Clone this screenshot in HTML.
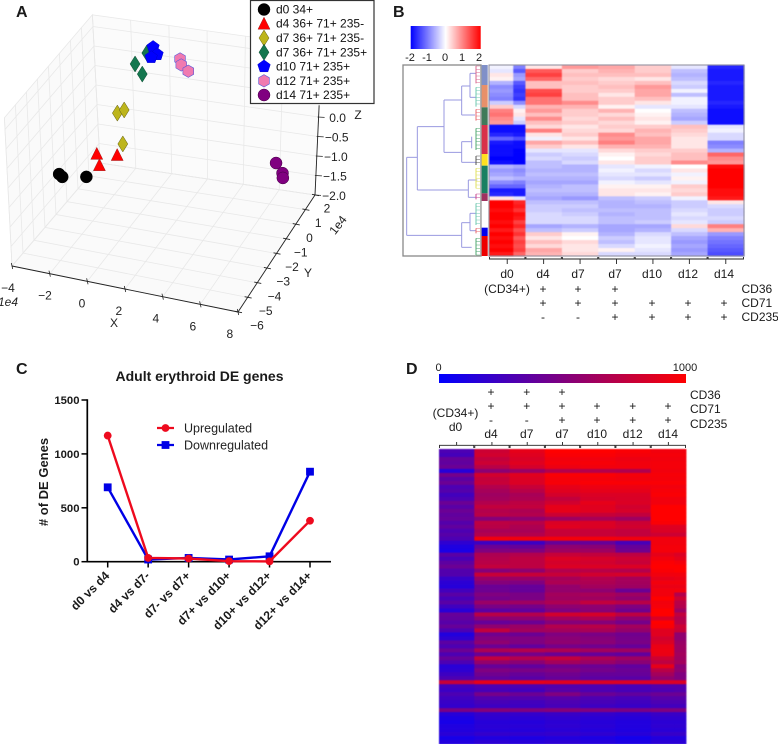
<!DOCTYPE html>
<html lang="en">
<head>
<meta charset="utf-8">
<title>Adult erythroid differentiation figure</title>
<style>
html,body{margin:0;padding:0;background:#fff;}
#figure{display:block;width:778px;height:744px;font-family:"Liberation Sans",Arial,sans-serif;fill:#1a1a1a;}
text{font-family:"Liberation Sans",Arial,sans-serif;}
</style>
</head>
<body>
<svg id="figure" xmlns="http://www.w3.org/2000/svg" width="778" height="744" viewBox="0 0 778 744">
  <defs>
    <linearGradient id="gradB" x1="0" x2="1" y1="0" y2="0"><stop offset="0" stop-color="#0000ff"/><stop offset="0.5" stop-color="#ffffff"/><stop offset="1" stop-color="#ff0000"/></linearGradient>
    <linearGradient id="gradD" x1="0" x2="1" y1="0" y2="0"><stop offset="0" stop-color="#0000ff"/><stop offset="1" stop-color="#ff0000"/></linearGradient>
  </defs>
  <g id="panelA"></g>
  <g id="panelB"></g>
  <g id="panelC"></g>
  <g id="panelD"></g>

  <text x="16" y="17" font-size="16" font-weight="bold">A</text>
  <text x="393" y="17" font-size="16" font-weight="bold">B</text>
  <text x="16" y="374" font-size="16" font-weight="bold">C</text>
  <text x="406" y="374" font-size="16" font-weight="bold">D</text>

  <!-- Panel B static furniture -->
  <rect x="410.7" y="26" width="70" height="23" fill="url(#gradB)"/>
  <g font-size="11" text-anchor="middle">
    <text x="410" y="61">-2</text><text x="427" y="61">-1</text><text x="445" y="61">0</text><text x="462" y="61">1</text><text x="479" y="61">2</text>
  </g>
  <g font-size="12" text-anchor="middle">
    <text x="507" y="278">d0</text><text x="543" y="278">d4</text><text x="578" y="278">d7</text><text x="615" y="278">d7</text><text x="652" y="278">d10</text><text x="688" y="278">d12</text><text x="724" y="278">d14</text>
    <text x="507" y="293">(CD34+)</text>
    <text x="543" y="293">+</text><text x="578" y="293">+</text><text x="615" y="293">+</text>
    <text x="543" y="307">+</text><text x="578" y="307">+</text><text x="615" y="307">+</text><text x="652" y="307">+</text><text x="688" y="307">+</text><text x="724" y="307">+</text>
    <text x="543" y="321">-</text><text x="578" y="321">-</text><text x="615" y="321">+</text><text x="652" y="321">+</text><text x="688" y="321">+</text><text x="724" y="321">+</text>
  </g>
  <g font-size="12">
    <text x="741.5" y="293">CD36</text><text x="741.5" y="307">CD71</text><text x="741.5" y="321">CD235</text>
  </g>

  <!-- Panel D static furniture -->
  <rect x="439" y="374" width="247" height="9" fill="url(#gradD)"/>
  <g font-size="11" text-anchor="middle">
    <text x="438.5" y="371">0</text><text x="685" y="371">1000</text>
  </g>
  <g font-size="12" text-anchor="middle">
    <text x="491" y="396">+</text><text x="526.7" y="396">+</text><text x="562" y="396">+</text>
    <text x="491" y="410">+</text><text x="526.7" y="410">+</text><text x="562" y="410">+</text><text x="597" y="410">+</text><text x="632.7" y="410">+</text><text x="668" y="410">+</text>
    <text x="491" y="424">-</text><text x="526.7" y="424">-</text><text x="562" y="424">+</text><text x="597" y="424">+</text><text x="632.7" y="424">+</text><text x="668" y="424">+</text>
    <text x="455.5" y="417">(CD34+)</text><text x="455.5" y="431">d0</text>
    <text x="491" y="438">d4</text><text x="526.7" y="438">d7</text><text x="562" y="438">d7</text><text x="597" y="438">d10</text><text x="632.7" y="438">d12</text><text x="668" y="438">d14</text>
  </g>
  <g font-size="12">
    <text x="690" y="399">CD36</text><text x="690" y="413">CD71</text><text x="690" y="428">CD235</text>
  </g>
</svg>

<script>
// ---------- Panel A data ----------
const scatterGroups = ['d0 34+','d4 36+ 71+ 235-','d7 36+ 71+ 235-','d7 36+ 71+ 235+','d10 71+ 235+','d12 71+ 235+','d14 71+ 235+'];
const scatterX = [[-3.72,-3.56,-2.26],[-1.66,-1.54,-0.58],[-0.52,-0.16,-0.27],[0.44,0.8,1.04],[1.36,1.56,1.26],[2.72,2.78,3.14],[7.76,8.12,8.15]];
const scatterY = [[-2,-2,-2],[-2,-2,-2],[-2,-2,-2],[-2,-2,-2],[-2,-2,-2],[-2,-2,-2],[-2,-2,-2]];
const scatterZ = [[-0.94,-1.0,-0.89],[-0.25,-0.53,-0.19],[0.89,1.0,0.12],[2.23,2.0,2.56],[2.74,2.57,2.47],[2.55,2.4,2.27],[0.3,0.07,-0.05]];
const xTicks3d = [-4,-2,0,2,4,6,8];
const yTicks3d = [-6,-5,-4,-3,-2,-1,0,1,2];
const zTicks3d = [-2,-1.5,-1,-0.5,0];
const zGrid3d = [-2,-1.5,-1,-0.5,0,0.5,1,1.5];

// ---------- Panel C data ----------
const deCategories = ['d0 vs d4','d4 vs d7-','d7- vs d7+','d7+ vs d10+','d10+ vs d12+','d12+ vs d14+'];
const upregulated = [1170,35,30,5,3,380];
const downregulated = [690,20,35,20,50,835];
const deTicks = [0,500,1000,1500];

// ---------- Panel B data: columns d0a,d0b,d4,d7-,d7+,d10,d12,d14 ----------
const bColumnReplicates = [2,1,3,3,3,3,3,3];
const bRows = [
[-.1,-1.0,.2,.8,.7,.4,-.2,-1.7],[-.2,-1.3,1.3,.4,.6,.4,-.5,-1.8],[.2,-.8,1.5,.5,.5,.5,-.6,-1.8],[.1,-.7,1.2,.4,.3,.2,-.5,-1.8],
[-.6,-1.3,.5,.5,.4,.5,-.3,-1.7],[-.9,-1.5,.5,.4,.5,.8,-.4,-1.8],[-.8,-1.6,1.4,.4,.4,.7,-.1,-1.8],[-.9,-1.5,1.5,.5,.2,.7,-.5,-1.8],
[-1.0,-1.6,1.1,.5,.4,.5,-.1,-1.8],[-.4,-.9,1.1,.9,.4,.2,-.1,-1.7],[.4,-.3,.6,.6,.1,-.2,-.2,-1.8],[1.0,.1,.8,.4,.6,0,-.5,-1.9],
[1.1,.2,.5,.4,.3,.1,-.6,-1.9],[.9,-.2,.9,.3,.5,.2,-.7,-1.9],[.8,-.4,.5,.4,.3,.1,-.4,-1.9],
[-1.9,-1.9,.3,.2,.4,.4,.5,-.2],[-1.9,-1.9,1.0,.3,.3,.6,.4,-.1],[-1.7,-1.8,.2,.4,.9,.5,.3,-.3],[-1.2,-1.4,-.1,.2,.8,.7,.2,-.3],
[-1.8,-1.9,.7,.5,1.0,.7,.2,-1.0],[-1.9,-1.9,.4,.2,.6,.6,.2,-.9],[-1.9,-2,-.2,-.2,.3,.4,.4,-.6],[-1.9,-2,-.4,-.3,.1,.3,.5,1.2],
[-2,-2,-.3,-.4,0,.4,.5,.9],[-1.9,-2,-.5,-.3,.2,.4,.9,.8],
[-.6,-.7,-.5,-.6,-.2,-.1,0,1.9],[-.8,-.9,-.6,-.6,-.1,-.3,.2,2],[-.7,-.8,-.5,-.5,-.2,-.2,-.1,2],[-.5,-.6,-.6,-.6,-.3,-.4,.1,2],
[-.9,-1,-.7,-.7,-.1,-.2,-.1,2],[-1.2,-1.2,-.6,-.5,.1,.1,.4,2],[-1.8,-1.8,-.5,-.5,.2,.2,.3,1.9],[-1.7,-1.8,-.6,-.6,.2,.1,.4,1.9],
[.2,-.2,-.7,-.8,-.5,-.4,-.1,1.8],
[2,1.7,-.5,-.5,-.6,-.5,-.4,.2],[2,1.8,-.4,-.4,-.6,-.6,-.4,-.3],[1.9,1.6,-.4,-.5,-.5,-.5,-.3,-.4],[2,1.9,-.3,-.4,-.6,-.5,-.2,-.4],
[2,1.8,-.3,-.3,-.5,-.5,-.3,-.3],[1.9,1.5,-.3,-.3,-.5,-.4,-.2,-.4],[2,1.7,-.7,-.6,-.7,-.7,.3,1.0],[1.8,1.4,-.5,-.4,-.7,-.6,-.3,.6],
[2,1.6,.4,.1,-.6,-.3,-.5,-.8],[1.9,1.3,.2,0,-.4,-.2,-.7,-1.0],[2,1.5,.5,.3,-.5,-.2,-.8,-1.1],[1.9,1.4,.3,.2,-.3,-.1,-.7,-1.2],
[2,1.5,.7,.2,.1,-.2,-.8,-1.3],[1.8,1.2,.6,.3,-.3,-.3,-.7,-1.4]
];

// ---------- Panel D data: columns d0,d4,d7-,d7+,d10,d12,d14a,d14b ----------
const dColumnReplicates = [3,3,3,3,3,3,2,1];
const dRows = [
[300,800,900,1000,1000,980,950,950],[270,820,880,980,980,960,960,960],[400,760,850,950,950,930,950,950],[380,800,880,960,970,950,960,960],
[420,720,830,930,950,950,960,960],[150,550,600,700,700,690,950,950],[450,820,880,980,980,960,970,970],[350,770,860,960,960,950,960,960],
[420,780,860,970,980,980,980,980],[300,700,780,900,930,930,950,950],[330,650,720,880,900,900,970,970],[260,620,660,830,860,860,980,980],
[300,640,680,760,840,850,950,950],[420,700,740,820,900,860,950,950],[350,760,760,900,880,820,1000,1000],[420,700,680,900,880,840,1000,1000],
[380,720,700,800,780,760,1000,1000],[400,520,560,620,660,620,1000,1000],[330,740,720,860,860,800,980,980],[380,720,680,880,860,820,870,870],
[300,660,660,780,780,760,860,860],[340,700,700,780,780,760,800,800],[300,950,950,960,960,950,950,950],[180,240,230,400,400,280,950,950],
[120,420,400,560,540,400,960,960],[100,500,500,620,620,440,960,960],[350,680,700,780,760,740,900,860],[280,700,740,860,840,800,950,900],
[370,720,740,830,820,780,990,960],[420,760,740,860,860,860,1000,1000],[320,520,560,700,720,700,980,1000],[320,780,780,780,820,840,950,950],
[220,600,600,650,700,650,900,920],[170,520,500,680,680,640,950,950],[150,420,400,580,640,620,920,920],[260,430,400,580,560,420,950,950],
[350,500,480,640,660,620,950,700],[280,460,480,620,620,560,1000,800],[350,600,620,680,760,720,950,720],[250,480,460,560,560,500,960,700],
[160,360,380,500,540,440,1000,620],[400,720,700,820,840,740,1000,760],[380,540,560,640,680,560,850,700],[340,400,420,520,520,460,1000,720],
[400,560,600,700,720,640,980,800],[300,760,640,640,660,580,880,780],[130,440,420,500,480,440,880,560],[180,500,500,540,520,460,820,560],
[360,560,500,560,540,480,860,600],[300,420,380,460,440,400,920,620],[420,680,700,680,640,620,930,620],[300,420,460,420,400,380,920,640],
[400,760,700,760,680,620,800,620],[300,580,540,640,600,540,740,640],[160,400,380,440,420,380,900,540],[180,500,480,500,460,420,720,560],
[240,440,400,440,400,400,640,500],[300,380,350,400,360,350,560,500],[780,900,900,880,860,860,860,860],[260,300,300,320,300,280,320,320],
[230,280,260,340,300,280,300,320],[300,460,420,500,420,380,420,420],[250,320,320,340,300,280,340,340],[220,280,260,300,280,250,300,300],
[200,240,240,280,240,220,260,260],[480,520,500,520,500,480,500,500],[150,200,200,220,200,180,220,220],[110,180,170,190,170,150,190,190],
[90,150,140,170,150,130,170,170],[120,160,160,180,160,130,180,180],[130,150,140,160,140,120,160,160],[160,200,190,200,180,150,210,210],
[90,120,110,130,110,80,130,130],[130,170,150,170,140,110,160,160]
];

const NS = 'http://www.w3.org/2000/svg';
function make(tag, attrs, parent) {
  const el = document.createElementNS(NS, tag);
  for (const k in attrs) el.setAttribute(k, attrs[k]);
  parent.appendChild(el);
  return el;
}
function fmtMinus(v, digits) {
  const s = Math.abs(v).toFixed(digits);
  return (v < 0 ? '\u2212' : '') + s;
}

/* ---------- Panel A ---------- */
(function () {
  const g = document.getElementById('panelA');
  const C00 = [12,266], C10 = [238,312], C11 = [315,195], C01 = [100,163];
  function project(x, y, z) {
    const u = (x + 4) / 12, v = (y + 6) / 8, h = z + 2;
    const ax = C00[0] + (C01[0] - C00[0]) * v, ay = C00[1] + (C01[1] - C00[1]) * v;
    const bx = C10[0] + (C11[0] - C10[0]) * v, by = C10[1] + (C11[1] - C10[1]) * v;
    return [ax + (bx - ax) * u + h * (-2 + 3.8 * u), ay + (by - ay) * u - 39 * h];
  }
  const zTop = 1.8;
  function pts(list) { return list.map(p => project(p[0],p[1],p[2]).map(n => n.toFixed(1)).join(',')).join(' '); }

  const paneLeft = make('polygon', {points: pts([[-4,-6,-2],[-4,2,-2],[-4,2,zTop],[-4,-6,zTop]]), fill:'#fafafa', stroke:'#e8e8e8', 'stroke-width':0.8}, g);
  
  
  const paneBack = make('polygon', {points: pts([[-4,2,-2],[8,2,-2],[8,2,zTop],[-4,2,zTop]]), fill:'#fbfbfb', stroke:'#e8e8e8', 'stroke-width':0.8}, g);
  
  
  const paneFloor = make('polygon', {points: pts([[-4,-6,-2],[8,-6,-2],[8,2,-2],[-4,2,-2]]), fill:'#fafafa', stroke:'#e8e8e8', 'stroke-width':0.8}, g);
  
  

  function gridLine(p) {
    const l = make('polyline', {points: pts(p), fill:'none', stroke:'#e8e8e8', 'stroke-width':0.8}, g);
    
    
  }
  xTicks3d.forEach(x => gridLine([[x,-6,-2],[x,2,-2],[x,2,zTop]]));
  yTicks3d.forEach(y => gridLine([[-4,y,zTop],[-4,y,-2],[8,y,-2]]));
  zGrid3d.forEach(z => gridLine([[-4,-6,z],[-4,2,z],[8,2,z]]));

  function axisLine(a, b, name) {
    const p = project(a[0],a[1],a[2]), q = project(b[0],b[1],b[2]);
    const l = make('line', {x1:p[0],y1:p[1],x2:q[0],y2:q[1],stroke:'#222','stroke-width':0.9}, g);
    
    
  }
  axisLine([-4,-6,-2],[8,-6,-2],'x-axis');
  axisLine([8,-6,-2],[8,2,-2],'y-axis');
  axisLine([8,2,-2],[8,2,0.3],'z-axis');

  function tick(x1,y1,x2,y2,name) {
    const t = make('line',{x1:x1,y1:y1,x2:x2,y2:y2,stroke:'#222','stroke-width':0.8},g);
    
    
  }
  function label(x,y,str,name,extra) {
    const t = make('text',Object.assign({x:x,y:y,'font-size':12,'text-anchor':'middle',fill:'#222'},extra||{}),g);
    t.textContent = str;
    
    
  }
  xTicks3d.forEach(x => {
    const p = project(x,-6,-2);
    tick(p[0]-0.7,p[1]-3,p[0]+0.7,p[1]+3,'x-tick');
    label(p[0]-4-(x+4)*0.35,p[1]+26,fmtMinus(x,0),'x-tick-label');
  });
  yTicks3d.forEach(y => {
    const p = project(8,y,-2);
    tick(p[0]-3,p[1]-0.7,p[0]+4,p[1]+0.7,'y-tick');
    label(p[0]+19-(y+6)*0.875,p[1]+17.5,fmtMinus(y,0),'y-tick-label');
  });
  zTicks3d.forEach(z => {
    const p = project(8,2,z);
    tick(p[0]-1,p[1],p[0]+6,p[1]+0.4,'z-tick');
    label(p[0]+19,p[1]+5,fmtMinus(z,1),'z-tick-label');
  });
  label(114,327,'X','x-axis-title');
  label(308,277,'Y','y-axis-title');
  label(358,119,'Z','z-axis-title');
  label(8,306,'1e4','x-offset-label',{'font-style':'italic'});
  label(338,229,'1e4','y-offset-label',{transform:'rotate(-52 338 225)'});

  const fills = ['#000000','#ff0000','#bdb51c','#14774f','#0000ff','#f07ab0','#800080'];
  const edges = ['#000000','#a02020','#5e5a10','#0c4a30','#0000cc','#5a5ad8','#400040'];
  function marker(parent, kind, cx, cy, fill, edge) {
    let el;
    function poly(n, r, start) {
      const a = [];
      for (let i = 0; i < n; i++) {
        const t = start + i * 2 * Math.PI / n;
        a.push((cx + r * Math.cos(t)).toFixed(1) + ',' + (cy + r * Math.sin(t)).toFixed(1));
      }
      return a.join(' ');
    }
    if (kind === 0 || kind === 6) el = make('circle',{cx:cx,cy:cy,r:6,fill:fill,stroke:edge,'stroke-width':0.5},parent);
    else if (kind === 1) el = make('polygon',{points:`${cx},${cy-6.5} ${cx+6},${cy+5.5} ${cx-6},${cy+5.5}`,fill:fill,stroke:edge,'stroke-width':0.5},parent);
    else if (kind === 2 || kind === 3) el = make('polygon',{points:`${cx},${cy-8} ${cx+5},${cy} ${cx},${cy+8} ${cx-5},${cy}`,fill:fill,stroke:edge,'stroke-width':0.5},parent);
    else if (kind === 4) el = make('polygon',{points:poly(5,6.6,-Math.PI/2),fill:fill,stroke:edge,'stroke-width':0.5},parent);
    else el = make('polygon',{points:poly(6,6.2,-Math.PI/2),fill:fill,stroke:edge,'stroke-width':0.6},parent);
    return el;
  }
  scatterGroups.forEach((name, i) => {
    scatterX[i].forEach((x, j) => {
      const p = project(x, scatterY[i][j], scatterZ[i][j]);
      const m = marker(g, i, p[0], p[1], fills[i], edges[i]);
      
      
    });
  });

  const legend = make('g',{},g);
  
  
  const box = make('rect',{x:250.5,y:0.5,width:123.5,height:103,fill:'#fff',stroke:'#333','stroke-width':1.2},legend);
  
  
  const rowY = [9.5,23.7,38,52.3,66.5,80.8,95];
  scatterGroups.forEach((name, i) => {
    const m = marker(legend, i, 264, rowY[i], fills[i], edges[i]);
    
    
    const t = make('text',{x:276,y:rowY[i]+4,'font-size':12,fill:'#111'},legend);
    t.textContent = name;
    
    
  });
})();

/* ---------- Panel B ---------- */
(function () {
  const g = document.getElementById('panelB');
  const X0 = 489, X1 = 744, Y0 = 65, Y1 = 256;
  const totalReps = bColumnReplicates.reduce((a,b)=>a+b,0);
  const repW = (X1 - X0) / totalReps;
  const rowH = (Y1 - Y0) / bRows.length;
  function color(v) {
    const t = Math.min(1, Math.abs(v) / 2), c = Math.round(255 * (1 - t));
    return v >= 0 ? `rgb(255,${c},${c})` : `rgb(${c},${c},255)`;
  }
  const cells = make('g',{style:'filter:blur(0.5px)'},g);
  
  
  bRows.forEach((row, r) => {
    let rep = 0;
    row.forEach((v, c) => {
      const cell = make('rect',{x:(X0+rep*repW).toFixed(2),y:(Y0+r*rowH).toFixed(2),width:(bColumnReplicates[c]*repW+0.4).toFixed(2),height:(rowH+0.4).toFixed(2),fill:color(v)},cells);
      
      
      rep += bColumnReplicates[c];
    });
  });
  const frame = make('rect',{x:X0,y:Y0,width:X1-X0,height:Y1-Y0,fill:'none',stroke:'#8a8a9a','stroke-width':1},g);
  
  

  const dendroBox = make('rect',{x:403,y:65,width:78,height:191,fill:'none',stroke:'#888','stroke-width':1.3},g);
  
  

  const sideSegs = [[195,255,'#8090c8'],[255,322,'#e8906a'],[322,375,'#3f7a5a'],[375,462,'#d8304a'],[462,497,'#ffe020'],[497,580,'#1a8060'],[580,603,'#a03060'],[603,683,'#ffffff'],[683,708,'#0000ee'],[708,768,'#ee0000']];
  sideSegs.forEach(s => {
    const r = make('rect',{x:481.7,y:s[0]/3,width:6,height:(s[1]-s[0])/3,fill:s[2]},g);
    
    
  });

  // Dendrogram trunk, traced in 3x zoom coordinates relative to x=390
  const trunk = [
    [50,472,50,706],[50,472,82,472],[82,380,82,570],[82,380,162,380],[162,300,162,457],[162,300,215,300],[215,258,215,345],
    [215,258,240,258],[240,220,240,292],[215,345,255,345],[162,457,215,457],[215,425,215,487],[215,425,245,425],[215,487,258,487],
    [82,570,235,570],[235,540,235,592],[50,706,215,706],[215,668,215,742],[215,668,240,668],[240,640,240,692],[215,742,245,742],
    [240,220,258,220],[240,292,258,292],[240,640,258,640],[240,692,258,692],[235,540,262,540],[235,592,258,592],[245,410,245,445]
  ];
  trunk.forEach(s => {
    const l = make('line',{x1:390+s[0]/3,y1:s[1]/3,x2:390+s[2]/3,y2:s[3]/3,stroke:'#9a9ae0','stroke-width':1},g);
    
    
  });
  const leafClusters = [[198,250,'#d86a90'],[262,320,'#70c8b0'],[328,362,'#e86a70'],[385,450,'#50a870'],[468,495,'#555555'],[505,565,'#e0e060'],[582,598,'#c84890'],[610,675,'#70c8b0'],[685,700,'#e86a70'],[715,765,'#50a870']];
  leafClusters.forEach(c => {
    const v = make('line',{x1:390+258/3,y1:c[0]/3,x2:390+258/3,y2:c[1]/3,stroke:c[2],'stroke-width':1},g);
    
    
    for (let y = c[0]; y <= c[1]; y += 10) {
      const h = make('line',{x1:390+258/3,y1:y/3,x2:390+270/3,y2:y/3,stroke:c[2],'stroke-width':0.5},g);
      
      
    }
  });

  // Column brackets
  const groupW = (X1 - X0) / 7;
  for (let i = 0; i < 7; i++) {
    const x = X0 + i * groupW;
    const b = make('path',{d:`M${x+0.5} 257 V259 H${x+groupW-0.5} V257 M${x+groupW/2} 259 V264`,fill:'none',stroke:'#222','stroke-width':0.9},g);
    
    
  }
})();

/* ---------- Panel C ---------- */
(function () {
  const g = document.getElementById('panelC');
  const yScale = v => 561.7 - v * (561.7 - 400) / 1500;
  const xScale = i => 107.7 + i * 40.46;
  const title = make('text',{x:199.5,y:381,'font-size':14,'font-weight':'bold','text-anchor':'middle'},g);
  title.textContent = 'Adult erythroid DE genes';
  
  
  const yTitle = make('text',{x:0,y:0,'font-size':13,'font-weight':'bold','text-anchor':'middle',transform:'translate(48,482) rotate(-90)'},g);
  yTitle.textContent = '# of DE Genes';
  
  

  const yAxis = make('line',{x1:87.3,y1:399.2,x2:87.3,y2:562.5,stroke:'#000','stroke-width':1.7},g);
  
  
  const xAxis = make('line',{x1:86.5,y1:561.7,x2:331,y2:561.7,stroke:'#000','stroke-width':1.7},g);
  
  

  deTicks.forEach(v => {
    const t = make('line',{x1:81.5,y1:yScale(v),x2:87.3,y2:yScale(v),stroke:'#000','stroke-width':1.5},g);
    
    
    const l = make('text',{x:79.5,y:yScale(v)+4,'font-size':11.3,'font-weight':'bold','text-anchor':'end'},g);
    l.textContent = String(v);
    
    
  });
  deCategories.forEach((c, i) => {
    const x = xScale(i);
    const t = make('line',{x1:x,y1:561.7,x2:x,y2:567.5,stroke:'#000','stroke-width':1.5},g);
    
    
    const l = make('text',{x:0,y:0,'font-size':12.2,'font-weight':'bold','text-anchor':'end',transform:`translate(${x+2.5},576.5) rotate(-45)`},g);
    l.textContent = c;
    
    
  });

  function series(values, color, kind, name) {
    const pl = make('polyline',{points:values.map((v,i)=>xScale(i).toFixed(1)+','+yScale(v).toFixed(1)).join(' '),fill:'none',stroke:color,'stroke-width':2.4,'stroke-linejoin':'round'},g);
    
    
    values.forEach((v,i) => {
      const x = xScale(i), y = yScale(v);
      const m = kind === 'circle'
        ? make('circle',{cx:x,cy:y,r:3.9,fill:color},g)
        : make('rect',{x:x-3.9,y:y-3.9,width:7.8,height:7.8,fill:color},g);
      
      
    });
  }
  series(downregulated,'#0000e6','square','downregulated');
  series(upregulated,'#ee0a1e','circle','upregulated');

  const l1 = make('line',{x1:157,y1:428,x2:174,y2:428,stroke:'#ee0a1e','stroke-width':2.2},g);
  
  
  const m1 = make('circle',{cx:165.5,cy:428,r:3.9,fill:'#ee0a1e'},g);
  
  
  const t1 = make('text',{x:184,y:432.5,'font-size':12.5,fill:'#222'},g);
  t1.textContent = 'Upregulated';
  
  
  const l2 = make('line',{x1:157,y1:445,x2:174,y2:445,stroke:'#0000e6','stroke-width':2.2},g);
  
  
  const m2 = make('rect',{x:161.6,y:441.1,width:7.8,height:7.8,fill:'#0000e6'},g);
  
  
  const t2 = make('text',{x:184,y:449.5,'font-size':12.5,fill:'#222'},g);
  t2.textContent = 'Downregulated';
  
  
})();

/* ---------- Panel D ---------- */
(function () {
  const g = document.getElementById('panelD');
  const X0 = 439, X1 = 686, Y0 = 449, Y1 = 744;
  const totalReps = dColumnReplicates.reduce((a,b)=>a+b,0);
  const repW = (X1 - X0) / totalReps;
  const rowH = (Y1 - Y0) / dRows.length;
  function color(v) {
    const t = Math.max(0, Math.min(1, v / 1000));
    return `rgb(${Math.round(255*t)},0,${Math.round(255*(1-t))})`;
  }
  const cells = make('g',{style:'filter:blur(0.5px)'},g);
  
  
  dRows.forEach((row, r) => {
    let rep = 0;
    row.forEach((v, c) => {
      const cell = make('rect',{x:(X0+rep*repW).toFixed(2),y:(Y0+r*rowH).toFixed(2),width:(dColumnReplicates[c]*repW+0.4).toFixed(2),height:(rowH+0.4).toFixed(2),fill:color(v)},cells);
      
      
      rep += dColumnReplicates[c];
    });
  });
  const groupW = (X1 - X0) / 7;
  for (let i = 0; i < 7; i++) {
    const x = X0 + i * groupW;
    const b = make('path',{d:`M${x+0.5} 448 V445.3 H${x+groupW-0.5} V448 M${x+groupW/2} 445.3 V442`,fill:'none',stroke:'#222','stroke-width':0.9},g);
    
    
  }
})();
</script>
</body>
</html>
